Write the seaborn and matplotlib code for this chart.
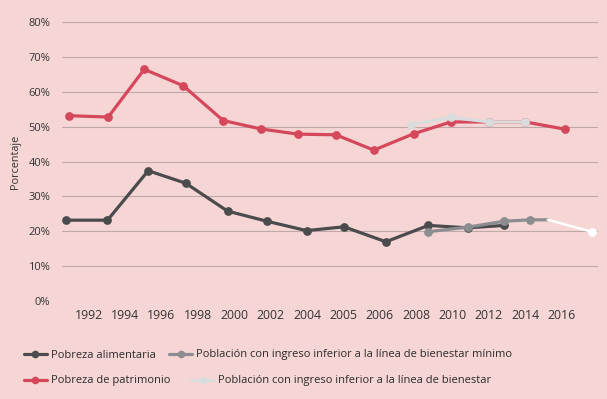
import matplotlib
matplotlib.use("Agg")
import matplotlib.pyplot as plt
import seaborn as sns
from matplotlib.lines import Line2D

# tick labels along the (ordinal) x axis
tick_labels = ["1992", "1994", "1996", "1998", "2000", "2002", "2004",
               "2005", "2006", "2008", "2010", "2012", "2014", "2016"]

# point positions on the tick-index scale
alim_pos = [-0.63, 0.52, 1.64, 2.67, 3.82, 4.90, 5.99, 7.02, 8.17, 9.34, 10.42, 11.42]
alim_val = [23.2, 23.2, 37.4, 33.8, 25.8, 22.9, 20.2, 21.3, 17.0, 21.7, 21.0, 21.7]

patr_pos = [-0.55, 0.54, 1.53, 2.60, 3.70, 4.73, 5.75, 6.80, 7.84, 8.93, 9.96, 11.0, 12.0, 13.1]
patr_val = [53.2, 52.8, 66.5, 61.8, 51.8, 49.4, 47.9, 47.7, 43.3, 48.0, 51.4, 51.4, 51.4, 49.3]

minimo_pos = [9.34, 10.42, 11.42, 12.13, 12.62]
minimo_val = [19.9, 21.2, 22.9, 23.3, 23.3]

bien_pos = [8.86, 9.96, 11.0, 12.0]
bien_val = [50.6, 52.7, 51.4, 51.4]

proy_pos = [12.62, 13.82]
proy_val = [23.3, 19.9]

BG = "#f6d6d4"
C_ALIM = "#4b4b4d"
C_PATR = "#d5475b"
C_MIN = "#8b8d90"
C_BIEN = "#d9dcdc"
TXT = "#333333"

sns.set_theme(style="white")
plt.rcParams["font.family"] = ["Open Sans", "DejaVu Sans"]

fig = plt.figure(figsize=(6.07, 3.99), dpi=100, facecolor=BG)
ax = fig.add_axes([62 / 607, 1 - 301 / 399, (597.7 - 62) / 607, (301 - 22.3) / 399])
ax.set_facecolor(BG)

LW = 2.3
MS = 6.3
line_kw = dict(linewidth=LW, marker="o", markersize=MS, markeredgewidth=0, clip_on=False)

sns.lineplot(x=patr_pos, y=patr_val, color=C_PATR, ax=ax, **line_kw)
sns.lineplot(x=bien_pos, y=bien_val, color=C_BIEN, ax=ax, **line_kw)
sns.lineplot(x=alim_pos, y=alim_val, color=C_ALIM, ax=ax, **line_kw)
sns.lineplot(x=minimo_pos, y=minimo_val, color=C_MIN, ax=ax,
             linewidth=LW, marker="o", markersize=MS, markeredgewidth=0,
             markevery=[0, 1, 2, 3], clip_on=False)
sns.lineplot(x=proy_pos, y=proy_val, color="white", ax=ax,
             linewidth=1.8, marker="o", markersize=MS, markeredgewidth=0,
             markevery=[1], clip_on=False)

ax.set_xlim(-0.73, 13.99)
ax.set_ylim(0, 80)
ax.set_yticks(range(0, 81, 10))
ax.set_yticklabels([f"{v}%" for v in range(0, 81, 10)], fontsize=8, color=TXT)
ax.set_xticks(range(len(tick_labels)))
ax.set_xticklabels(tick_labels, fontsize=8.8, color=TXT)
ax.tick_params(axis="y", length=0, pad=8.5)
ax.tick_params(axis="x", length=0, pad=6)
ax.grid(axis="y", color="#bfa9a8", linewidth=0.8)
ax.grid(axis="x", visible=False)
ax.set_axisbelow(True)
for s in ax.spines.values():
    s.set_visible(False)
ax.set_xlabel("")
ax.set_ylabel("Porcentaje", fontsize=7.8, color=TXT, labelpad=5)

def handle(color):
    return Line2D([], [], color=color, linewidth=LW, marker="o",
                  markersize=5.5, markeredgewidth=0)

leg_kw = dict(frameon=False, fontsize=8, handlelength=2.05, handletextpad=0.35,
              labelcolor="#2a2a2a", borderaxespad=0, borderpad=0)

fig.legend([handle(C_ALIM), handle(C_MIN)],
           ["Pobreza alimentaria",
            "Población con ingreso inferior a la línea de bienestar mínimo"],
           ncol=2, columnspacing=1.25, loc="center left",
           bbox_to_anchor=(24 / 607, 1 - 355 / 399), **leg_kw)
fig.legend([handle(C_PATR), handle(C_BIEN)],
           ["Pobreza de patrimonio",
            "Población con ingreso inferior a la línea de bienestar"],
           ncol=2, columnspacing=1.9, loc="center left",
           bbox_to_anchor=(24 / 607, 1 - 381 / 399), **leg_kw)

fig.savefig("out.png", dpi=100, facecolor=BG)
